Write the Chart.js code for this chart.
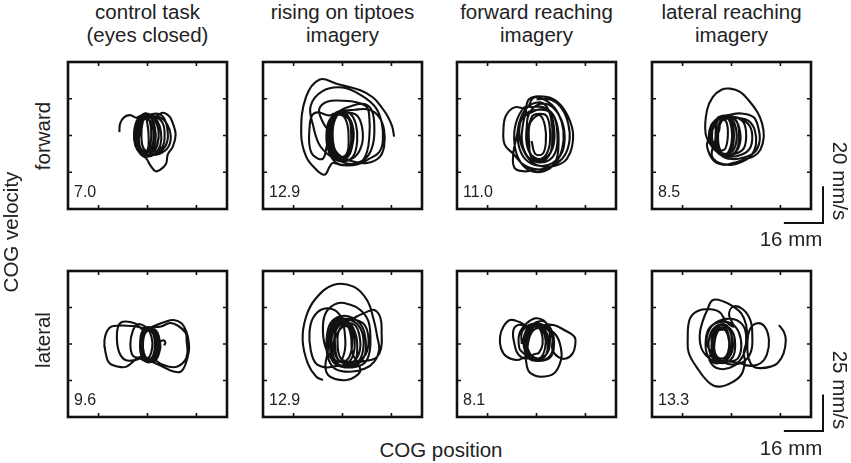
<!DOCTYPE html>
<html>
<head>
<meta charset="utf-8">
<script src="https://cdn.jsdelivr.net/npm/chart.js@4.4.1/dist/chart.umd.min.js"></script>
<style>
  body { margin:0; background:#fff; width:851px; height:463px; position:relative; overflow:hidden;
         font-family: Arial, "Liberation Sans", sans-serif; color:#222; }
  .pan { position:absolute; }
  .txt { position:absolute; white-space:nowrap; line-height:1; }
</style>
</head>
<body>
<script>
// column titles and row labels
const colTitles = [['control task', '(eyes closed)'], ['rising on tiptoes', 'imagery'],
                   ['forward reaching', 'imagery'], ['lateral reaching', 'imagery']];
const rowLabels = ['forward', 'lateral'];
const fwdValues = ['7.0', '12.9', '11.0', '8.5'];
const latValues = ['9.6', '12.9', '8.1', '13.3'];

// axes: COG position (mm) vs COG velocity (mm/s)
const xRange = 32.5;
const xTicks = [-20, 0, 20];
const fwdRange = 40, fwdTicks = [-20, 0, 20], fwdBar = 20;
const latRange = 50, latTicks = [-25, 0, 25], latBar = 25;
const barMm = 16;

// traces, [position mm, velocity mm/s]
const fwdControl = [
  [-11.5,1.8],[-11.2,6.5],[-9.5,10],[-7.1,11.1],[-4.6,9.7],
  [-2.5,10.8],[1,9.9],[3,4.5],[3.2,-3.6],[1,-9.9],[-2,-10.8],[-4.8,-5.4],[-5.2,2.7],[-3.5,9.9],
  [-0.5,11.2],[2.5,9],[4.5,2.7],[4,-5.4],[1.5,-9.9],[-2.5,-10.4],[-5,-3.6],[-4.5,5.4],[-2,10.8],
  [0.5,9],[1.5,2],[1,-6],[-1,-10],[-3,-8],[-4,-1],[-3,7],[-1,10],
  [0,6],[0.5,-2],[0,-8],[-2,-9],[-3.5,-3],[-3.2,4],[-1.5,9],
  [2,11.7],[6,10.8],[8,4.5],[8,-3.6],[5,-9],[0,-10.8],[-4,-7.2],[-5.5,0],[-4,8.1],
  [-1,12.1],[3.3,10.3],[6.2,12.4],[9,10.3],[10.4,6.5],[11.5,0.4],[10.4,-5.9],[8.3,-10.3],[7.5,-15.7],
  [4.9,-18.9],[3.2,-19.4],[1.4,-16.7],[-0.7,-12.2],[-2.8,-10.3],
  [-5,-5.4],[-5.5,1.8],[-4,9],[-1,11.2],[2.5,9.9],[4.5,3.6],[4,-4.5],[2,-9.5],[-1.5,-10.8],[-4,-7.2],
  [-4.5,0],[-3.5,8.1],[-1,11],[1,10.8],[5,9.9],[8,6.3],[9.5,0],[8.5,-6.3],[5,-9.9],[0.5,-10.4],[-3,-8],
  [-4.5,-2],[-4,6],[-1.5,11],[1.5,11],[4,8],[5.5,2],[5.3,-5],[3,-10],[-0.5,-11.5],[-3.5,-9],[-5.2,-2],[-4.5,6],
  [-2.5,10],[2,10.8],[6,7.2],[7,0],[6,-6.3],[2,-9],[-1.5,-7.2],[-2.5,0],
  [-2,7],[-1,9],[1.5,7.2],[2.5,0],[1.5,-7.2],[-1,-9],[-3.5,-4.5],[-3,2.7]
];
const fwdTiptoe = [
  [-3,10.8],[1,11.7],[3.5,7.2],[4.2,0],[3.5,-8.1],[0.5,-12.6],[-3,-10.8],[-5.5,-3.6],[-5.5,4.5],
  [-2.5,12.2],[2,10.8],[4.4,3.6],[4,-5.4],[1.5,-11.7],[-2,-13],[-5,-7.2],[-6,1.8],[-4.5,9],
  [-4,11.7],[2,12.6],[6,10.8],[8,4.5],[8,-4.5],[5,-11.7],[0,-13.5],[-4,-11.7],[-6,-4.5],
  [-8,-12.6],[-12,-10.8],[-13.5,-5.4],[-13.5,3.6],[-12.5,10.8],[-10,12.6],[-6,11],
  [-2,11.5],[2.5,9],[3.5,1.8],[3,-7.2],[0,-11.7],[-3,-9.9],[-4.5,-1.8],[-4,7.2],
  [-2,12.6],[4,16.2],[9,17.1],[12,13.5],[13,5.4],[12.5,-4.5],[10,-11.7],[5,-15.3],[0,-14.4],[-3,-10.8],[-5,-4],[-4.5,3],
  [-3,11],[0.5,12],[3,8],[4,0],[3,-9],[0,-12.5],[-3.5,-11],[-5,-4],[-5,4],
  [-4.5,9],[-2,13],[1.5,12],[3.5,6],[4,-3],[3,-10],[0,-13.5],[-3.5,-12],[-5.5,-5],[-5,4],
  [-3,10.5],[0,11],[2,6],[2.5,-2],[2,-9],[-0.5,-12],[-3,-9],[-4,-1],[-3.5,7],
  [-1,12.5],[5,14],[11,14],[15,10],[17,3],[17,-6],[15,-12],[10,-15],[4,-14],[0,-12],[-3,-8],[-4.5,0],
  [-8,7.2],[-9.5,14.4],[-6,18.5],[0,18.9],[6,18],[10,15.3],[11,9],[11,0],[10,-9],[7.5,-14.4],[2,-16.2],[-3,-14.4],
  [-6,-7],[-6.5,2],[-5,9],[-1,12.5],[3,12],[5.5,6],[6,-3],[4.5,-11],[1,-14],[-3,-13],
  [-9,-6],[-12,5.4],[-13,16.2],[-8,24.3],[0,26.1],[8,21.6],[13.5,15.3],[16,7.2],[16.5,-2.7],[15,-9],[11,-12.6],
  [6,-15.8],[0,-16.2],[-4,-15],
  [-5.2,-16.8],[-7.3,-21.3],[-10.7,-18.6],[-14.9,-11.4],[-16.9,1.4],[-14.9,21],[-9.3,30.5],[-2.4,28.2],
  [7.3,24.6],[12.5,20.7],[16,15.3],[18.5,10.4],[20.3,5],[21.1,-0.6]
];
const fwdForward = [
  [0,19.8],[6,19.4],[10.5,14.4],[13,6.3],[13.5,-2.7],[11.5,-10.8],[7,-16.2],[1,-18.5],[-5,-16.2],[-9.5,-9.9],
  [-13,-5],[-13.5,3.6],[-12.5,10.8],[-9,15.3],[-4,15],
  [-1,20.7],[5,18],[9,11.7],[11,2.7],[10.5,-7.2],[8,-14.4],[3,-19.4],[-3,-18.9],[-7,-13.5],[-9,-4.5],[-8.5,6.3],[-5,15.3],
  [-2,15.5],[3,15.3],[7,10.8],[8.5,1.8],[8,-8.1],[5,-13.5],[0,-14.4],[-4,-10.8],[-6,-2.7],[-5.5,6.3],
  [-4.5,12],[-3,19.8],[3,21.2],[8,18.9],[12,12.6],[14.8,2.7],[14.5,-6.3],[12.5,-12.6],[10,-15.3],[5,-17.1],[-1,-15.3],[-5,-9],[-7,0],[-6,9],
  [-2,12.6],[2,14.4],[6,12.6],[8.5,5.4],[9,-4.5],[8,-13.5],[4.4,-18.7],[0,-18.5],[-5,-19.5],[-9,-17.6],[-9.5,-10],[-8,0],[-6.5,9],
  [-3,13],[1,14],[5,13],[7,6],[7,-5],[4,-12],[0,-13],[-3,-8],[-3.5,2],
  [-2,10],[0,11.7],[4,10.8],[5.5,2.7],[5,-7.2],[2,-12.6],[-2,-10.8],[-4,-4.5],[-4,4.5],
  [-3,12],[1,17],[6,16],[10,9],[11.5,0],[10.5,-9],[6.5,-15],[1,-16.5],[-4.5,-13],[-7.5,-4],[-7,7],[-4,15],
  [0.5,18],[4,16],[6,9],[6.5,-1],[5.5,-10],[2,-14],[-2,-12],[-3,-4],[-3,5],
  [-1.5,9],[1.5,11],[3.5,5],[3.8,-4],[2.5,-10],[-0.5,-10],[-2,-3]
];
const fwdLateral = [
  [-3,10.2],[1,9],[3.2,4],[3.5,-4],[1,-10],[-3,-11.4],[-7,-7],[-8.5,0],[-7,7],
  [-2,10.5],[2,8],[3,0],[2,-8],[-2,-11],[-6,-8],[-8,-1],[-7,6],
  [-4,10],[-1,10.5],[4,9],[7.5,5],[8.5,-1],[7.5,-7],[4,-10.5],[-1,-11.5],[-5.5,-9],[-8.9,-3],[-8.5,5],[-5,10],
  [-2,11],[4,12],[9,10],[11,4],[11.5,-3],[9.5,-9],[5,-12],[0,-12.8],[-4,-11],[-6.5,-5],[-6,3],[-4,8],
  [-1,9.5],[3,9.5],[7,8],[9.5,3],[10,-5],[8,-11],[4,-14.5],[0,-16],[-5,-15],[-8,-11],[-7,-4],
  [-5,3],[-4.5,8.5],[-2.5,10],[0,8],[1,0],[0,-8],[-2.5,-10],[-5,-8],[-6,-2],
  [-6.5,4],[-6,9],[-3,10.8],[1.5,10],[5,7],[6,0],[5,-7],[1.5,-10],[-3,-10.5],[-6,-6.5],
  [-6.5,0],[-6,7],[-4,10.5],[-1.5,9.5],[0,4],[0,-4],[-2,-10],[-4.5,-9],[-6,-3],[-5.5,4],[-4,9],
  [-2,7],[-1.5,0],[-2.5,-7],[-4.5,-8],[-5.5,-2],[-5,5],[-3,9],[0.5,8],[2,2],[1.5,-6],[-1,-10],[-4.5,-10],
  [-8,-6],[-10.6,1.2],[-10,13.8],[-7.6,21],[-4.1,24.9],[-0.6,25.5],[3.5,23.7],[7,19.2],[10.5,12.9],[12.5,6.6],
  [13.2,-0.6],[11.8,-7.8],[9,-11.4],[4.9,-13.2],[0.7,-15],[-3.4,-15.9],[-7.6,-13.2],[-10,-6],[-9.5,-2]
];
const latControl = [
  [6.8,-1],[7.3,1],[6.5,2.5],[5,2],[4,7],[2,11],
  [4,8],[5,2],[5.2,-3],[3.5,-10],[0,-12.5],[-2.5,-8],[-3,1],[-2,9],[1,11.5],
  [3.5,8],[4.5,0],[3.5,-8],[1,-11],[-1.5,-9],[-2.5,-1],[-1.5,7],[1,10],
  [3,7],[3.8,0],[3,-8],[0,-12],[-3.1,-9],[-8.6,-15.5],[-12,-15.5],[-15.6,-13],[-17,-7],[-17.6,2.7],[-15.6,11],
  [-12,12.6],[-6,12.3],[-2,11],
  [1,10.5],[3.5,6],[4,-2],[2.5,-10],[-0.5,-11],[-2.5,-5],[-2.5,3],[-1,9],
  [1.5,11.5],[7,15],[10.7,16.4],[14,14],[16,8],[16.9,0.5],[16.9,-5],[15.5,-14],[13.5,-19],[10,-18.5],[7.3,-16.4],
  [3,-13],[-1,-10],[-2.8,-3],[-2.2,5],
  [0,10],[2.5,9.5],[4,3],[3.8,-6],[1.5,-11],[-1,-9],
  [-5,-11],[-9,-11],[-11.5,-6],[-12.5,3],[-12,12],[-10,15.3],[-5,14],[-2,10],[0,11],
  [2,11],[4,8],[4.6,0],[3.8,-9],[1,-12],[-1.5,-8],[-2,0],[-1,8],
  [1,11],[5.5,12],[9.3,14.4],[12.5,12.5],[15.6,7.5],[16,2],[16.3,-6.2],[15,-12],[11.4,-15.8],[6,-14],[2,-10],
  [-1,-10],[-2.5,-6],[-2.8,2],[-1.5,9.5],[1.5,11],[3.8,6],[4,-2],[2.5,-9],[0,-12],
  [-3,-10],[-6,-8],[-7,0],[-6,9],[-4,13.5],[-1,12],[1,8],[2,1],[1.5,-6],[0,-10],
  [-1.5,-9],[-2.2,-4],[-1.8,4],[0,9],[2,8],[3,1],[2.5,-7],[0.5,-10.5],[-1.5,-6],[-1.8,2],[-0.5,9],
  [2,10.5],[4.5,5],[5,-4],[3,-11.5],[-0.5,-11],[-2.8,-4],[-2.5,4],[-0.5,10]
];
const latTiptoe = [
  [-8,-24.7],[-10.7,-22.4],[-14.2,-13.2],[-16.3,2.7],[-14.9,18.7],[-11,31],[-3.8,40.4],[4.5,39.3],[10,30.1],
  [12.8,16.4],[14.2,5],[15,-4],[13,-12],[9,-17],[3,-19],
  [-3,-17],[-6,-9],[-6.5,3],[-5,14],[-1,19],[4,18],[8,12],[9.5,2],[9,-8],[6,-14],[1,-16],
  [-4,-12],[-5,0],[-4,12],[0,17],[5,15],[8,8],[8.5,-3],[6.5,-12],[2,-15.5],
  [-3,-13],[-7,-2],[-8,12],[-6.6,22],[-2,27.9],[3,27],[7.3,23.3],[10.5,16],[11.4,5],[11,-6],[9,-13],[4,-16],
  [-2,-15],[-7,-16],[-11,-13],[-13,-4],[-13.5,8],[-12,18],[-8,24],[-3,23],[0,16],[1,6],[1,-4],[-1,-12],
  [-3.5,-10],[-4.5,-2],[-4,9],[-1,15],[3,14],[5.5,6],[6,-4],[5,-12],[1,-15],
  [-2,-14],[-4,-8],[-3.5,2],[-1,10],[2,12],[3.5,5],[4,-6],[7.3,-17.8],[5,-22.5],[1.7,-24.7],[-3,-24],[-6,-21],[-7,-15],
  [-6,-5],[-5.5,6],[-4,14],[-0.5,18],[2.5,16],
  [6,19],[10,22],[13,23.3],[15.5,18],[16,7],[15.8,-3],[14,-9],[11.4,-11],[8,-12],[4,-15],[0,-15],
  [-3,-12],[-4.5,2],[-3,11],[0,15],[3.5,12],[5,2],[4,-9],[1,-13],
  [-2,-10],[-3,-1],[-3,8],[-1,16],[4,17],[8.5,14],[10.5,6],[10,-5],[7,-11],[2,-12],
  [-1,-9],[-2,0],[-1.5,9],[1,13],[3.5,10],[4,1],[3,-8],[0.5,-12],[-2.5,-9],[-3.5,0],[-2.5,10],[0.5,14],
  [5,13],[7,5],[7,-5],[4.5,-12],[0,-14]
];
const latForward = [
  [-6,0],[-6,8],[-3,13],[1,14],[4.5,11],[6.5,4],[7,-4],[5,-10],[0,-11.5],[-4,-9],
  [-8,-11],[-12.2,-8.7],[-14.5,-3],[-14.9,5],[-13.5,12],[-10.8,16.4],[-7,15],[-3,12],
  [0,15],[3,15.5],[6,10],[7.2,1],[6,-7],[3,-11],[-2,-11],[-5.5,-6],[-7,-3],[-7,7],[-4,14.2],[-0.4,17.6],[3,16],
  [5,11],[5.5,3],[4.5,-6],[1,-10],[-2.5,-9],[-4.5,-3],[-5,2],[-4,10],[-1,13],
  [2,13],[7,13],[11.3,9.6],[15.5,5],[15.8,-1],[14.8,-6.4],[12,-10],[9,-9],[6.5,-4],[6.5,4],[5,9],[2,12],
  [-1,12],[-3.5,6],[-4.5,-3],
  [-4,-8],[-3.5,0],[-2,8],[1,11],[4,8],[5,0],[4,-7],[1,-11],[-3,-10],[-5,-3],[-5,6],[-2,12],[3,12],
  [8,6],[10,-3],[10,-11],[7.2,-20],[1.7,-22.4],[-2.5,-20],[-3.9,-15.5],[-4.5,-5],[-3.5,4],[-1,12],
  [1,12.5],[3.5,5],[3.5,-3],[1.5,-9.5],[-2,-8],[-4,0],[-3.5,8],[0,12],
  [2,8],[2.5,0],[1,-6],[-1,-7],[-4,-10],[-7.5,-7],[-9,0],[-9.5,9],[-7.5,13],[-3,12],
  [0,13],[3,10],[4.5,2],[4,-7],[1,-10.5],[-2.5,-9],[-5,-2],[-4.5,7],[-2,12]
];
const latLateral = [
  [19.4,13],[21.5,8],[22.2,2.7],[21.3,-6.4],[18.8,-13.2],[16,-15.5],[12,-16.5],[9,-15.5],
  [7,-10],[6.5,0],[7.5,10],[10.5,14.2],[13.5,12],[15.3,3],[14.5,-7],[12,-13],[8,-15],[3,-13],
  [-2,-12],[-7,-13],[-10,-7],[-10.5,3],[-9,11],[-5,15],[0,14],[3,8],[4,-2],[2.5,-10],
  [-1,-12],[-6,-12],[-9,-5],[-9,5],[-6.5,12],[-3,13],[0.5,8],[1.5,-1],[0.5,-9],
  [-3,-13],[-8,-11],[-12,-4],[-13,6],[-11.7,16],[-10,23],[-7.6,30.1],[-3,29],[0.7,25.6],[4,21],[6,13],[6.3,3],[5,-6],
  [5.5,-12],[4,-21],[0.5,-26],[-4.8,-29.2],[-8.9,-26.9],[-14.4,-15.5],[-17.5,-6],[-17.9,2.7],[-17.2,16.4],
  [-14.5,22],[-10,24],[-5,22],[-2,15],
  [1,12],[-1,20],[0.7,25.6],[4.5,24],[7.7,16.4],[8.5,6],[8,-5],[5,-12],[0,-14],
  [-4,-12],[-7.5,-8],[-8,2],[-6,11],[-3,13.5],[-0.5,9],[0,0],[-1,-9],[-4,-12],
  [-8,-3],[-6.5,8],[-4,11],[-1.5,6],[-1,-4],[-3,-11],[-6,-10],
  [-10,0],[-9,10],[-5,16],[1,17],[5,12],[6,3],[5,-7],[1,-15],[-5,-17],[-9,-11],
  [-8,-4],[-8,6],[-5.5,12],[-2,12],[0,6],[0.5,-3],[-1.5,-10],[-5,-12],[-7.5,-8],[-7,2],[-5,10],
  [-2.5,11],[-1,4],[-1.5,-6],[-4,-10],[-6.5,-7],[-7,0],[-5.5,9],[-3,10]
];

const fwdTraces = [fwdControl, fwdTiptoe, fwdForward, fwdLateral];
const latTraces = [latControl, latTiptoe, latForward, latLateral];

// layout of the panel boxes (px)
const colLeft = [68, 263, 457, 652];
const rowTop = [62, 271];
const boxW = 159, boxH = [147, 146];

function addText(str, x, y, size, rot, anchor) {
  const d = document.createElement('div');
  d.className = 'txt';
  d.textContent = str;
  d.style.fontSize = size + 'px';
  d.style.left = x + 'px';
  d.style.top = y + 'px';
  d.style.transform = (anchor || 'translate(-50%,-50%)') + (rot ? ' rotate(' + rot + 'deg)' : '');
  document.body.appendChild(d);
  return d;
}

// frame with inward ticks, plus the optional scale bar
const framePlugin = {
  id: 'frame',
  afterDraw(chart, args, opts) {
    const { ctx, chartArea: a } = chart;
    const x = chart.scales.x, y = chart.scales.y;
    ctx.save();
    ctx.strokeStyle = '#111';
    ctx.lineWidth = 2.6;
    ctx.strokeRect(a.left, a.top, a.right - a.left, a.bottom - a.top);
    ctx.lineWidth = 1.6;
    ctx.beginPath();
    xTicks.forEach(v => {
      const px = x.getPixelForValue(v);
      ctx.moveTo(px, a.top); ctx.lineTo(px, a.top + 4);
      ctx.moveTo(px, a.bottom); ctx.lineTo(px, a.bottom - 4);
    });
    opts.yTicks.forEach(v => {
      const py = y.getPixelForValue(v);
      ctx.moveTo(a.left, py); ctx.lineTo(a.left + 4, py);
      ctx.moveTo(a.right, py); ctx.lineTo(a.right - 4, py);
    });
    ctx.stroke();
    if (opts.bar) {
      const cx = a.right + 12, cy = a.bottom + 14;
      const w = x.getPixelForValue(barMm) - x.getPixelForValue(0);
      const h = y.getPixelForValue(0) - y.getPixelForValue(opts.bar);
      ctx.lineWidth = 2;
      ctx.beginPath();
      ctx.moveTo(cx - w, cy); ctx.lineTo(cx, cy); ctx.lineTo(cx, cy - h);
      ctx.stroke();
    }
    ctx.restore();
  }
};

function makePanel(col, row, pts, range, ticks, bar) {
  const pad = { left: 4, top: 4, right: bar ? 20 : 4, bottom: bar ? 20 : 4 };
  const cv = document.createElement('canvas');
  cv.className = 'pan';
  const w = boxW + pad.left + pad.right, h = boxH[row] + pad.top + pad.bottom;
  cv.width = w; cv.height = h;
  cv.style.width = w + 'px'; cv.style.height = h + 'px';
  cv.style.left = (colLeft[col] - pad.left) + 'px';
  cv.style.top = (rowTop[row] - pad.top) + 'px';
  document.body.appendChild(cv);
  new Chart(cv, {
    type: 'scatter',
    data: { datasets: [{
      data: pts.map(p => ({ x: p[0], y: p[1] })),
      showLine: true, borderColor: '#111', borderWidth: 2.1,
      pointRadius: 0, tension: 0.4, fill: false
    }] },
    options: {
      responsive: false, animation: false, events: [],
      layout: { padding: pad },
      plugins: { legend: { display: false }, tooltip: { enabled: false },
                 frame: { yTicks: ticks, bar: bar } },
      scales: {
        x: { type: 'linear', min: -xRange, max: xRange, display: false },
        y: { type: 'linear', min: -range, max: range, display: false }
      }
    },
    plugins: [framePlugin]
  });
}

for (let c = 0; c < 4; c++) {
  makePanel(c, 0, fwdTraces[c], fwdRange, fwdTicks, c === 3 ? fwdBar : 0);
  makePanel(c, 1, latTraces[c], latRange, latTicks, c === 3 ? latBar : 0);
  const cx = colLeft[c] + boxW / 2;
  const t = addText(colTitles[c][0] + '\n' + colTitles[c][1], cx, 0, 20.5, 0, 'translateX(-50%)');
  t.style.whiteSpace = 'pre';
  t.style.lineHeight = '23px';
  t.style.textAlign = 'center';
  addText(fwdValues[c], colLeft[c] + 6, rowTop[0] + boxH[0] - 11, 16, 0, 'translateY(-85%)');
  addText(latValues[c], colLeft[c] + 6, rowTop[1] + boxH[1] - 11, 16, 0, 'translateY(-85%)');
}
addText(rowLabels[0], 43, 135.5, 20.5, -90);
addText(rowLabels[1], 43, 340, 20.5, -90);
addText('COG velocity', 11, 232, 20.5, -90);
addText('COG position', 441, 450, 20.5, 0);
addText(fwdBar + ' mm/s', 840, 181, 20.5, 90);
addText(latBar + ' mm/s', 840, 390, 20.5, 90);
addText(barMm + ' mm', 791, 239, 20.5, 0);
addText(barMm + ' mm', 791, 448, 20.5, 0);
</script>
</body>
</html>
